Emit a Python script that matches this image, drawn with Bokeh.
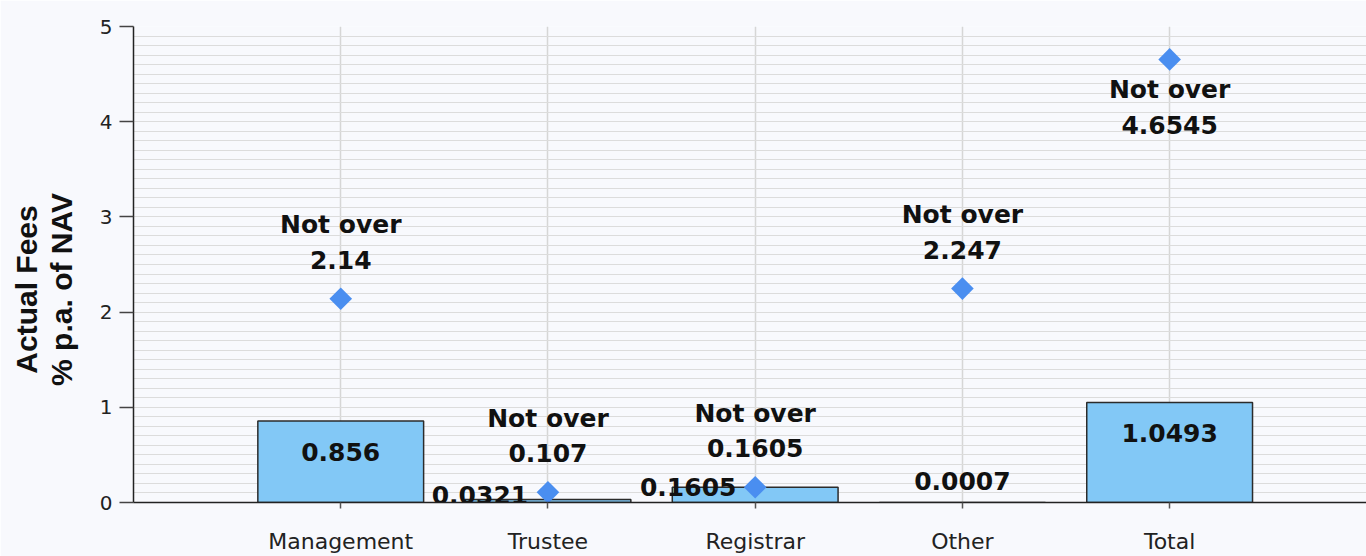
from bokeh.plotting import figure
from bokeh.models import Range1d, FixedTicker, SingleIntervalTicker, ColumnDataSource
from bokeh.core.properties import value
from bokeh.embed import file_html
from bokeh.resources import INLINE
import math

# ---------------- data ----------------
categories = ["Management", "Trustee", "Registrar", "Other", "Total"]
actual_fees = [0.856, 0.0321, 0.1605, 0.0007, 1.0493]
max_fees = [2.14, 0.107, 0.1605, 2.247, 4.6545]
max_prefix = "Not over"
y_title_lines = ["Actual Fees", "% p.a. of NAV"]

# ---------------- style ----------------
BG = "#f8f9fd"
BAR_FILL = "#82c8f6"
DIAMOND = "#4a8ef0"
GRID = "#dcdcdc"
LABEL_FONT = "DejaVu Sans"
TITLE_PAD = " " * 6   # nudges the rotated title below the frame centre

# per-item label offsets (screen px, positive = down)
bar_label_dx = [0, -68, -67, 0, 0]
bar_label_dy = [31, -4, 0, -21, 30]


def max_label_offsets(v):
    if v > 4:
        return 30, 66
    return -74, -39


xs = list(range(1, len(categories) + 1))

p = figure(width=1366, height=556,
           x_range=Range1d(0, 5.95), y_range=Range1d(0, 5),
           output_backend="svg", toolbar_location=None,
           min_border_left=133, min_border_right=0,
           min_border_top=26, min_border_bottom=52)
p.background_fill_color = BG
p.border_fill_color = BG
p.outline_line_color = None

# axes
p.yaxis.ticker = SingleIntervalTicker(interval=1, num_minor_ticks=10)
p.yaxis.axis_line_color = "#222222"
p.yaxis.axis_line_width = 1.5
p.yaxis.major_tick_line_color = "#444444"
p.yaxis.major_tick_line_width = 1.5
p.yaxis.major_tick_out = 14
p.yaxis.major_tick_in = 0
p.yaxis.minor_tick_line_color = None
p.yaxis.major_label_standoff = 7
p.yaxis.major_label_text_font = "DejaVu Sans"
p.yaxis.major_label_text_font_size = "20px"
p.yaxis.major_label_text_color = "#222222"
p.yaxis.axis_label = "\n".join(line + TITLE_PAD for line in y_title_lines)
p.yaxis.axis_label_text_font = "Liberation Sans"
p.yaxis.axis_label_text_font_style = "bold"
p.yaxis.axis_label_text_font_size = "30px"
p.yaxis.axis_label_text_line_height = 1.05
p.yaxis.axis_label_text_color = "#111111"
p.yaxis.axis_label_standoff = 19

p.xaxis.ticker = FixedTicker(ticks=xs)
p.xaxis.major_label_overrides = {x: c for x, c in zip(xs, categories)}
p.xaxis.axis_line_color = "#222222"
p.xaxis.axis_line_width = 1.5
p.xaxis.major_tick_line_color = "#555555"
p.xaxis.major_tick_line_width = 1.5
p.xaxis.major_tick_out = 6
p.xaxis.major_tick_in = 0
p.xaxis.minor_tick_line_color = None
p.xaxis.major_label_standoff = 20
p.xaxis.major_label_text_font = "DejaVu Sans"
p.xaxis.major_label_text_font_size = "22px"
p.xaxis.major_label_text_color = "#222222"

# grids
p.ygrid.grid_line_color = GRID
p.ygrid.grid_line_width = 1.2
p.ygrid.minor_grid_line_color = GRID
p.ygrid.minor_grid_line_width = 1.2
p.xgrid.ticker = FixedTicker(ticks=xs)
p.xgrid.grid_line_color = "#d6d6d6"
p.xgrid.grid_line_width = 1.5

# bars
bars = ColumnDataSource(dict(
    x=xs, top=actual_fees,
    label=[str(v) for v in actual_fees],
    dx=bar_label_dx, dy=bar_label_dy))
p.vbar(x="x", top="top", bottom=0, width=0.8, source=bars,
       fill_color=BAR_FILL, line_color="#2b2b2b", line_width=1.5)
p.text(x="x", y="top", text="label", x_offset="dx", y_offset="dy", source=bars,
       text_font=value(LABEL_FONT), text_font_style="bold", text_font_size="25px",
       text_align="center", text_baseline="middle", text_color="#111111")

# diamonds
offs = [max_label_offsets(v) for v in max_fees]
dia = ColumnDataSource(dict(
    x=xs, y=max_fees,
    head=[max_prefix] * len(max_fees),
    val=[str(v) for v in max_fees],
    dy1=[o[0] for o in offs], dy2=[o[1] for o in offs]))
p.scatter(x="x", y="y", source=dia, marker="square", size=16, angle=math.pi / 4,
          fill_color=DIAMOND, line_color=None)
for col, dcol in (("head", "dy1"), ("val", "dy2")):
    p.text(x="x", y="y", text=col, y_offset=dcol, source=dia,
           text_font=value(LABEL_FONT), text_font_style="bold", text_font_size="25px",
           text_align="center", text_baseline="middle", text_color="#111111")

open("out.html", "w").write(file_html(p, INLINE))
